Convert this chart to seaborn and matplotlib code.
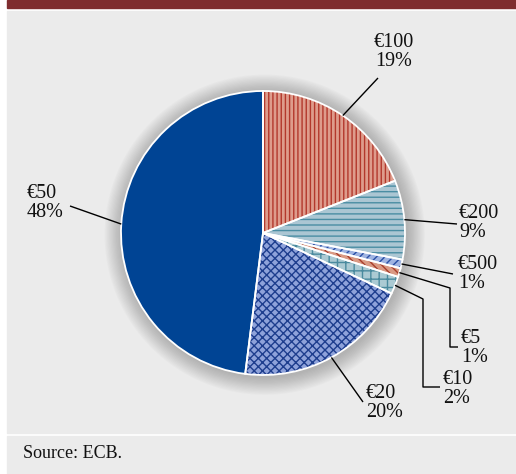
import numpy as np
import matplotlib
matplotlib.use('Agg')
import matplotlib.pyplot as plt
import seaborn as sns
from matplotlib.patches import Rectangle, Circle

# Data
labels = ['€100', '€200', '€500', '€5', '€10', '€20', '€50']
shares = [19, 9, 1, 1, 2, 20, 48]
face_colors = ['#de9c8c', '#abc6d3', '#9fb4e2', '#da9a84', '#abcad3', '#8ea2da', '#004494']
hatch_colors = ['#b3382c', '#4a8da3', '#2a50a5', '#a83e2c', '#4a8a9e', '#1e3e8e', '#004494']
hatches = ['||||', '---', '////', '\\\\\\\\', '++', 'xxxx', None]

sns.set_style('white')
plt.rcParams['font.family'] = ['Liberation Serif', 'DejaVu Serif']
plt.rcParams['hatch.linewidth'] = 1.0

W, H = 516, 474
CX, CY, R = 263, 233, 142

fig = plt.figure(figsize=(W / 100, H / 100), dpi=100)
fig.patch.set_facecolor('white')

# panels (figure pixels, top-left origin)
def frect(x0, y0, x1, y1, color):
    fig.add_artist(Rectangle((x0 / W, 1 - y1 / H), (x1 - x0) / W, (y1 - y0) / H,
                             transform=fig.transFigure, color=color, zorder=0))

frect(7, 0, 516, 8, '#7f2d2f')
frect(7, 11, 516, 433, '#ebebeb')
frect(7, 436, 516, 474, '#ebebeb')

ax = fig.add_axes([0, 0, 1, 1])
ax.set_facecolor('none')

def px(x, y):
    return ((x - CX) / R, (CY - y) / R)

# soft shadow
for k in range(1, 16):
    ax.add_patch(Circle((0.012, -0.012), 1 + k * 0.0085, color='#555555', alpha=0.028, lw=0, zorder=1))

wedges, _ = ax.pie(shares, startangle=90, counterclock=False, radius=1,
                   colors=face_colors, wedgeprops=dict(linewidth=0))
for w, hc, h in zip(wedges, hatch_colors, hatches):
    w.set_edgecolor(hc)
    w.set_zorder(2)
    if h:
        w.set_hatch(h)

# white borders
borders, _ = ax.pie(shares, startangle=90, counterclock=False, radius=1,
                    colors=['none'] * len(shares),
                    wedgeprops=dict(linewidth=1.3, edgecolor='white', fill=False))
for b in borders:
    b.set_zorder(3)

# labels and leader lines
label_pos = {
    '€100': ((394, 52), 'center', [(378, 78)]),
    '€200': ((459, 223), 'left', [(457, 224)]),
    '€500': ((458, 274), 'left', [(453, 274)]),
    '€5': ((461, 348), 'left', [(450, 288), (450, 347), (458, 347)]),
    '€10': ((443, 389), 'left', [(423, 299), (423, 387), (440, 387)]),
    '€20': ((366, 403), 'left', [(363, 402)]),
    '€50': ((27, 203), 'left', [(70, 206)]),
}

for w, lab, s in zip(wedges, labels, shares):
    (tx, ty), ha, path = label_pos[lab]
    ang = np.deg2rad((w.theta1 + w.theta2) / 2)
    start = (np.cos(ang), np.sin(ang))
    pts = [start] + [px(*p) for p in path]
    xs, ys = zip(*pts)
    ax.plot(xs, ys, color='black', lw=1.0, zorder=4, solid_capstyle='butt')
    x, y = px(tx, ty)
    ax.text(x, y, f'{lab}\n{s}%', ha=ha, va='center', fontsize=14.5,
            linespacing=1.05, color='#111111', zorder=5)

ax.set_xlim(-CX / R, (W - CX) / R)
ax.set_ylim(-(H - CY) / R, CY / R)
ax.set_aspect('auto')
ax.axis('off')

fig.text(23 / W, 1 - 453 / H, 'Source: ECB.', ha='left', va='center', fontsize=13, color='#111111')

plt.savefig('out.png', dpi=100)
